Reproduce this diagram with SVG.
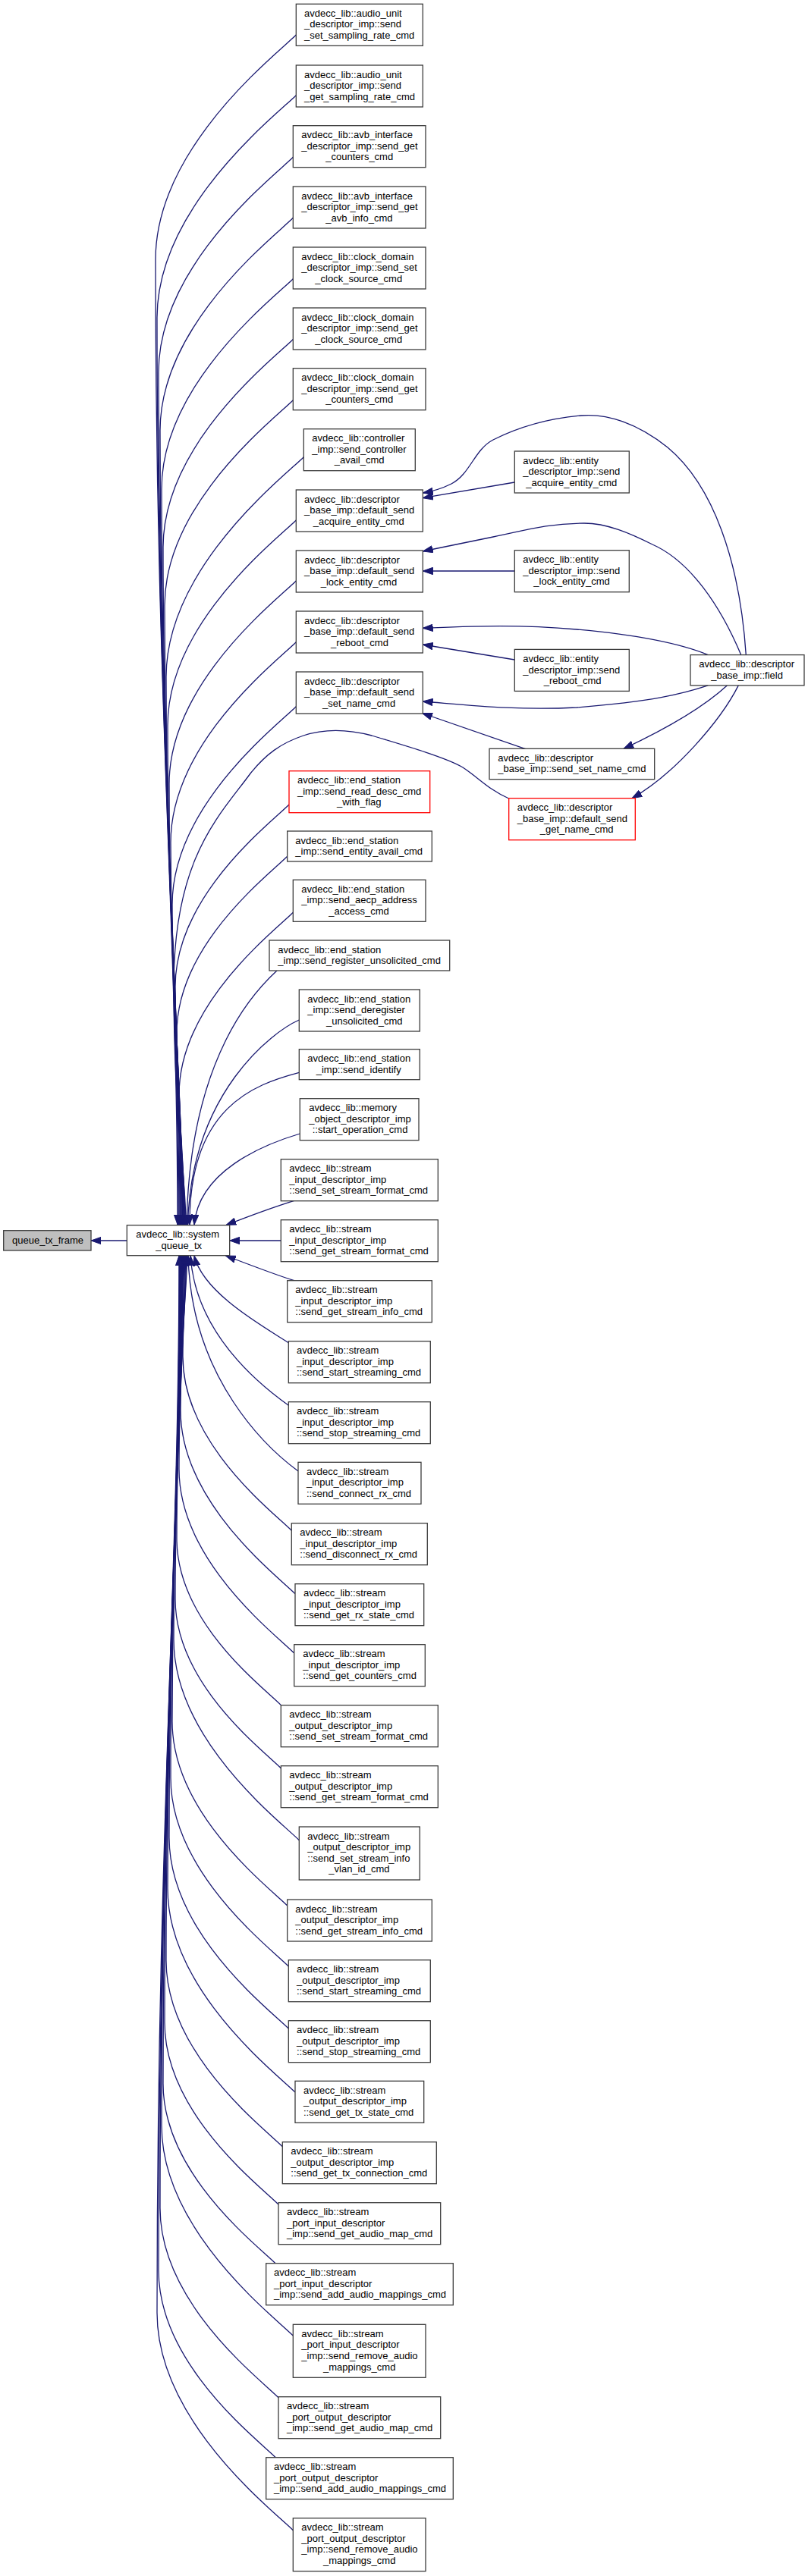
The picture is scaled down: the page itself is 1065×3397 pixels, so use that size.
<svg xmlns="http://www.w3.org/2000/svg" width="1065" height="3397" viewBox="0 0 1065 3397">
<style>
.n rect{fill:#fff;stroke:#3c3c3c;stroke-width:1.3}
.n.red rect{stroke:#ff0000}
.n.root rect{fill:#bfbfbf}
text{font-family:"Liberation Sans",Arial,Helvetica,sans-serif;font-size:13px;fill:#000}
.e path{fill:none;stroke:#191970;stroke-width:1.3;marker-end:url(#ah)}
</style>
<defs>
<marker id="ah" markerUnits="userSpaceOnUse" markerWidth="14" markerHeight="10" viewBox="0 0 14 10" refX="13.3" refY="5" orient="auto"><path d="M0,0.3 L13.3,5 L0,9.7 Z" fill="#191970" stroke="#191970" stroke-width="1"/></marker>
</defs>
<rect width="1065" height="3397" fill="#fff"/>
<g id="connectors" class="e">
<path d="M167.3,1636 L120,1636"/>
<path d="M390.3,46 C365.3,71 205,194.2 205,342.5 C205,915.1 234,1233.2 234,1615"/>
<path d="M390.3,125.7 C365.3,150.7 207,272.3 207,419 C207,957.2 235,1256.2 235,1615"/>
<path d="M386.3,207.3 C361.3,232.3 209,349.1 209,491 C209,996.8 236,1277.8 236,1615"/>
<path d="M386.3,287.3 C361.3,312.3 211,427.6 211,567.8 C211,1039 237,1300.8 237,1615"/>
<path d="M386.3,367.7 C361.3,392.7 213,506.3 213,645 C213,1081.5 238,1324 238,1615"/>
<path d="M386.3,447.5 C361.3,472.5 215,584.6 215,721.6 C215,1123.6 238.5,1347 238.5,1615"/>
<path d="M386.3,527.7 C361.3,552.7 217,663.2 217,798.6 C217,1166 239,1370.1 239,1615"/>
<path d="M400.3,602.7 C375.3,627.7 219,747.8 219,892.8 C219,1217.8 240,1398.3 240,1615"/>
<path d="M390.3,686 C365.3,711 221,821.5 221,956.9 C221,1253 240.5,1417.6 240.5,1615"/>
<path d="M390.3,766 C365.3,791 223,899.9 223,1033.7 C223,1295.3 241,1440.6 241,1615"/>
<path d="M390.3,846.7 C365.3,871.7 225,979 225,1111.2 C225,1337.9 241.5,1463.9 241.5,1615"/>
<path d="M390.3,931.7 C365.3,956.7 227,1062.4 227,1193 C227,1382.9 242,1488.4 242,1615"/>
<path d="M670.7,1053 C645,1042 630,1025 610,1012 C590,1000 540,985 490,970 C460,962 430,960 400,970 C370,980 350,995 330,1020 C290,1075 229,1130 229,1300 C229,1460 243,1530 243,1615"/>
<path d="M381,1061 C356,1086 231,1181 231,1301 C231,1442.3 243.5,1520.8 243.5,1615"/>
<path d="M378.7,1129.3 C353.7,1154.3 233,1245.9 233,1362.4 C233,1476.1 244,1539.2 244,1615"/>
<path d="M386.3,1203.3 C361.3,1228.3 236,1323.6 236,1443.8 C236,1520.8 245,1563.6 245,1615"/>
<path d="M365,1280 C340,1303 250,1390 246,1615"/>
<path d="M394.3,1345 C360,1360 252,1440 247.5,1615"/>
<path d="M394.3,1414.3 C335,1430 249,1460 250,1615"/>
<path d="M395.3,1495 C345,1510 262,1545 256,1615"/>
<path d="M387.7,1583.3 C360,1592 330,1603 298,1615.5"/>
<path d="M370.3,1636 L302.7,1636"/>
<path d="M387.7,1688.7 C360,1680 330,1668 297.5,1656"/>
<path d="M380.3,1770.7 C345,1748 268,1705 256,1656"/>
<path d="M380.3,1853.3 C345,1828 258,1760 251,1656"/>
<path d="M393,1940 C355,1912 252,1820 248,1656"/>
<path d="M384.3,2018.3 C359.3,1993.3 241,1903.6 241,1789 C241,1729.1 246.5,1695.9 246.5,1656"/>
<path d="M389,2101.7 C364,2076.7 238,1980.9 238,1860.1 C238,1768.3 245.5,1717.2 245.5,1656"/>
<path d="M387.7,2180 C362.7,2155 236,2058.6 236,1937.3 C236,1810.7 244.5,1740.4 244.5,1656"/>
<path d="M370,2248.3 C345,2223.3 233,2138.7 233,2029.1 C233,1861.2 243.5,1767.9 243.5,1656"/>
<path d="M370.3,2331.7 C345.3,2306.7 231,2220.3 231,2108.8 C231,1905 242.5,1791.8 242.5,1656"/>
<path d="M394.3,2426.7 C369.3,2401.7 229,2294.5 229,2162.2 C229,1934.4 241.5,1807.9 241.5,1656"/>
<path d="M378.7,2513 C353.7,2488 227,2391.7 227,2270.3 C227,1993.9 241,1840.3 241,1656"/>
<path d="M380.3,2593 C355.3,2568 225,2468.8 225,2344.5 C225,2034.7 240.5,1862.6 240.5,1656"/>
<path d="M380.3,2675 C355.3,2650 223,2549.2 223,2423.3 C223,2078 240,1886.2 240,1656"/>
<path d="M389,2759 C364,2734 221,2624.6 221,2490.2 C221,2114.8 239.5,1906.3 239.5,1656"/>
<path d="M372.3,2830.7 C347.3,2805.7 219,2708.1 219,2585.4 C219,2167.2 239,1934.8 239,1656"/>
<path d="M367,2907 C342,2882 217,2787 217,2667 C217,2212 238.5,1959.3 238.5,1656"/>
<path d="M363.3,2985 C338.3,2960 215,2866.4 215,2747.7 C215,2256.4 238,1983.5 238,1656"/>
<path d="M386.3,3080 C361.3,3055 213,2941.4 213,2802.7 C213,2286.7 237.5,2000 237.5,1656"/>
<path d="M367,3161.7 C342,3136.7 211,3036.9 211,2912.1 C211,2346.9 237,2032.8 237,1656"/>
<path d="M363.3,3240.7 C338.3,3215.7 209,3117.3 209,2993.8 C209,2391.8 236.5,2057.3 236.5,1656"/>
<path d="M386.3,3336.7 C361.3,3311.7 207,3193.3 207,3049.8 C207,2422.6 236,2074.1 236,1656"/>
<path d="M678.3,636 L557.3,656.7"/>
<path d="M983.3,863.6 C975,740 940,640 880,590 C840,558 800,545 766,548 C720,552 680,565 650,580 C625,593 620,625 595,638 C583,644 570,648 557.3,650"/>
<path d="M976.7,863.6 C950,800 910,740 860,718 C830,703 800,690 770,690 C720,690 690,700 650,708 C620,714 590,720 557.3,727"/>
<path d="M678.3,753 L557.3,753"/>
<path d="M933.3,863.6 C900,850 850,838 760,830 C680,823 620,826 557.3,828.3"/>
<path d="M678.3,870 L557.3,850"/>
<path d="M933.3,903.9 C900,915 860,925 760,933 C680,937 620,930 557.3,925"/>
<path d="M693.3,987.9 L556.5,940.5"/>
<path d="M958.3,903.9 C930,930 880,960 822,987.3"/>
<path d="M973.3,903.9 C950,950 890,1020 833,1052.7"/>
</g>
<g id="n_queue_tx_frame" class="n root"><rect x="4.7" y="1622.7" width="115.3" height="26.3"/><text x="16" y="1640">queue_tx_frame</text></g>
<g id="n_system_queue_tx" class="n"><rect x="167.3" y="1615.7" width="135.4" height="40"/><text x="179.3" y="1632.2">avdecc_lib::system</text><text x="205.3" y="1646.8">_queue_tx</text></g>
<g id="n1" class="n"><rect x="390.3" y="5.3" width="167" height="55"/><text x="401" y="21.8">avdecc_lib::audio_unit</text><text x="401" y="36.4">_descriptor_imp::send</text><text x="401" y="51">_set_sampling_rate_cmd</text></g>
<g id="n2" class="n"><rect x="390.3" y="86" width="167" height="55"/><text x="401" y="102.5">avdecc_lib::audio_unit</text><text x="401" y="117.1">_descriptor_imp::send</text><text x="401" y="131.7">_get_sampling_rate_cmd</text></g>
<g id="n3" class="n"><rect x="386.3" y="165.7" width="174.7" height="55"/><text x="397.3" y="182.2">avdecc_lib::avb_interface</text><text x="397.3" y="196.8">_descriptor_imp::send_get</text><text x="429.3" y="211.4">_counters_cmd</text></g>
<g id="n4" class="n"><rect x="386.3" y="246" width="174.7" height="55"/><text x="397.3" y="262.5">avdecc_lib::avb_interface</text><text x="397.3" y="277.1">_descriptor_imp::send_get</text><text x="429.3" y="291.7">_avb_info_cmd</text></g>
<g id="n5" class="n"><rect x="386.3" y="326" width="174.7" height="55"/><text x="397.3" y="342.5">avdecc_lib::clock_domain</text><text x="397.3" y="357.1">_descriptor_imp::send_set</text><text x="415.3" y="371.7">_clock_source_cmd</text></g>
<g id="n6" class="n"><rect x="386.3" y="406" width="174.7" height="55"/><text x="397.3" y="422.5">avdecc_lib::clock_domain</text><text x="397.3" y="437.1">_descriptor_imp::send_get</text><text x="415.3" y="451.7">_clock_source_cmd</text></g>
<g id="n7" class="n"><rect x="386.3" y="485.7" width="174.7" height="55"/><text x="397.3" y="502.2">avdecc_lib::clock_domain</text><text x="397.3" y="516.8">_descriptor_imp::send_get</text><text x="429.3" y="531.4">_counters_cmd</text></g>
<g id="n8" class="n"><rect x="400.3" y="565.7" width="147" height="55"/><text x="411.3" y="582.2">avdecc_lib::controller</text><text x="411.3" y="596.8">_imp::send_controller</text><text x="440.7" y="611.4">_avail_cmd</text></g>
<g id="n9" class="n"><rect x="390.3" y="646" width="167" height="55"/><text x="401" y="662.5">avdecc_lib::descriptor</text><text x="401" y="677.1">_base_imp::default_send</text><text x="412.7" y="691.7">_acquire_entity_cmd</text></g>
<g id="n10" class="n"><rect x="390.3" y="726" width="167" height="55"/><text x="401" y="742.5">avdecc_lib::descriptor</text><text x="401" y="757.1">_base_imp::default_send</text><text x="422.7" y="771.7">_lock_entity_cmd</text></g>
<g id="n11" class="n"><rect x="390.3" y="806" width="167" height="55"/><text x="401" y="822.5">avdecc_lib::descriptor</text><text x="401" y="837.1">_base_imp::default_send</text><text x="436" y="851.7">_reboot_cmd</text></g>
<g id="n12" class="n"><rect x="390.3" y="886" width="167" height="55"/><text x="401" y="902.5">avdecc_lib::descriptor</text><text x="401" y="917.1">_base_imp::default_send</text><text x="425" y="931.7">_set_name_cmd</text></g>
<g id="n13" class="n red"><rect x="381" y="1016.7" width="185.7" height="55"/><text x="392" y="1033.2">avdecc_lib::end_station</text><text x="392" y="1047.8">_imp::send_read_desc_cmd</text><text x="444" y="1062.4">_with_flag</text></g>
<g id="n14" class="n"><rect x="378.7" y="1096" width="190.6" height="40"/><text x="389.3" y="1112.5">avdecc_lib::end_station</text><text x="389.3" y="1127.1">_imp::send_entity_avail_cmd</text></g>
<g id="n15" class="n"><rect x="386.3" y="1160.3" width="174.7" height="55"/><text x="397.3" y="1176.8">avdecc_lib::end_station</text><text x="397.3" y="1191.4">_imp::send_aecp_address</text><text x="433.3" y="1206">_access_cmd</text></g>
<g id="n16" class="n"><rect x="355" y="1240" width="237.7" height="40"/><text x="366.3" y="1256.5">avdecc_lib::end_station</text><text x="366.3" y="1271.1">_imp::send_register_unsolicited_cmd</text></g>
<g id="n17" class="n"><rect x="394.3" y="1305" width="159" height="55"/><text x="405.3" y="1321.5">avdecc_lib::end_station</text><text x="405.3" y="1336.1">_imp::send_deregister</text><text x="430" y="1350.7">_unsolicited_cmd</text></g>
<g id="n18" class="n"><rect x="394.3" y="1383.7" width="159" height="40"/><text x="405.3" y="1400.2">avdecc_lib::end_station</text><text x="416.7" y="1414.8">_imp::send_identify</text></g>
<g id="n19" class="n"><rect x="395.3" y="1448.7" width="156.7" height="55"/><text x="407.3" y="1465.2">avdecc_lib::memory</text><text x="407.3" y="1479.8">_object_descriptor_imp</text><text x="411.7" y="1494.4">::start_operation_cmd</text></g>
<g id="n20" class="n"><rect x="370.3" y="1528.7" width="207" height="55"/><text x="381.3" y="1545.2">avdecc_lib::stream</text><text x="381.3" y="1559.8">_input_descriptor_imp</text><text x="381.3" y="1574.4">::send_set_stream_format_cmd</text></g>
<g id="n21" class="n"><rect x="370.3" y="1608.7" width="207" height="55"/><text x="381.3" y="1625.2">avdecc_lib::stream</text><text x="381.3" y="1639.8">_input_descriptor_imp</text><text x="381.3" y="1654.4">::send_get_stream_format_cmd</text></g>
<g id="n22" class="n"><rect x="378.7" y="1688.7" width="190.6" height="55"/><text x="389.3" y="1705.2">avdecc_lib::stream</text><text x="389.3" y="1719.8">_input_descriptor_imp</text><text x="389.3" y="1734.4">::send_get_stream_info_cmd</text></g>
<g id="n23" class="n"><rect x="380.3" y="1768.7" width="187" height="55"/><text x="391" y="1785.2">avdecc_lib::stream</text><text x="391" y="1799.8">_input_descriptor_imp</text><text x="391" y="1814.4">::send_start_streaming_cmd</text></g>
<g id="n24" class="n"><rect x="380.3" y="1848.7" width="187" height="55"/><text x="391" y="1865.2">avdecc_lib::stream</text><text x="391" y="1879.8">_input_descriptor_imp</text><text x="391" y="1894.4">::send_stop_streaming_cmd</text></g>
<g id="n25" class="n"><rect x="393" y="1928.3" width="162" height="55"/><text x="404" y="1944.8">avdecc_lib::stream</text><text x="404" y="1959.4">_input_descriptor_imp</text><text x="404" y="1974">::send_connect_rx_cmd</text></g>
<g id="n26" class="n"><rect x="384.3" y="2008.7" width="179" height="55"/><text x="395.3" y="2025.2">avdecc_lib::stream</text><text x="395.3" y="2039.8">_input_descriptor_imp</text><text x="395.3" y="2054.4">::send_disconnect_rx_cmd</text></g>
<g id="n27" class="n"><rect x="389" y="2088.7" width="169.7" height="55"/><text x="400" y="2105.2">avdecc_lib::stream</text><text x="400" y="2119.8">_input_descriptor_imp</text><text x="400" y="2134.4">::send_get_rx_state_cmd</text></g>
<g id="n28" class="n"><rect x="387.7" y="2168.7" width="172.6" height="55"/><text x="399.3" y="2185.2">avdecc_lib::stream</text><text x="399.3" y="2199.8">_input_descriptor_imp</text><text x="399.3" y="2214.4">::send_get_counters_cmd</text></g>
<g id="n29" class="n"><rect x="370.3" y="2248.7" width="207" height="55"/><text x="381.3" y="2265.2">avdecc_lib::stream</text><text x="381.3" y="2279.8">_output_descriptor_imp</text><text x="381.3" y="2294.4">::send_set_stream_format_cmd</text></g>
<g id="n30" class="n"><rect x="370.3" y="2328.7" width="207" height="55"/><text x="381.3" y="2345.2">avdecc_lib::stream</text><text x="381.3" y="2359.8">_output_descriptor_imp</text><text x="381.3" y="2374.4">::send_get_stream_format_cmd</text></g>
<g id="n31" class="n"><rect x="394.3" y="2409" width="159" height="70"/><text x="405.3" y="2425.5">avdecc_lib::stream</text><text x="405.3" y="2440.1">_output_descriptor_imp</text><text x="405.3" y="2454.7">::send_set_stream_info</text><text x="433.3" y="2469.3">_vlan_id_cmd</text></g>
<g id="n32" class="n"><rect x="378.7" y="2505" width="190.6" height="55"/><text x="389.3" y="2521.5">avdecc_lib::stream</text><text x="389.3" y="2536.1">_output_descriptor_imp</text><text x="389.3" y="2550.7">::send_get_stream_info_cmd</text></g>
<g id="n33" class="n"><rect x="380.3" y="2584.7" width="187" height="55"/><text x="391" y="2601.2">avdecc_lib::stream</text><text x="391" y="2615.8">_output_descriptor_imp</text><text x="391" y="2630.4">::send_start_streaming_cmd</text></g>
<g id="n34" class="n"><rect x="380.3" y="2664.7" width="187" height="55"/><text x="391" y="2681.2">avdecc_lib::stream</text><text x="391" y="2695.8">_output_descriptor_imp</text><text x="391" y="2710.4">::send_stop_streaming_cmd</text></g>
<g id="n35" class="n"><rect x="389" y="2744.3" width="169.7" height="55"/><text x="400" y="2760.8">avdecc_lib::stream</text><text x="400" y="2775.4">_output_descriptor_imp</text><text x="400" y="2790">::send_get_tx_state_cmd</text></g>
<g id="n36" class="n"><rect x="372.3" y="2824.7" width="203" height="55"/><text x="383.3" y="2841.2">avdecc_lib::stream</text><text x="383.3" y="2855.8">_output_descriptor_imp</text><text x="383.3" y="2870.4">::send_get_tx_connection_cmd</text></g>
<g id="n37" class="n"><rect x="367" y="2904.7" width="213.7" height="55"/><text x="378" y="2921.2">avdecc_lib::stream</text><text x="378" y="2935.8">_port_input_descriptor</text><text x="378" y="2950.4">_imp::send_get_audio_map_cmd</text></g>
<g id="n38" class="n"><rect x="350.7" y="2984.7" width="246.6" height="55"/><text x="361" y="3001.2">avdecc_lib::stream</text><text x="361" y="3015.8">_port_input_descriptor</text><text x="361" y="3030.4">_imp::send_add_audio_mappings_cmd</text></g>
<g id="n39" class="n"><rect x="386.3" y="3065.3" width="174.7" height="70"/><text x="397.3" y="3081.8">avdecc_lib::stream</text><text x="397.3" y="3096.4">_port_input_descriptor</text><text x="397.3" y="3111">_imp::send_remove_audio</text><text x="426" y="3125.6">_mappings_cmd</text></g>
<g id="n40" class="n"><rect x="367" y="3160.7" width="213.7" height="55"/><text x="378" y="3177.2">avdecc_lib::stream</text><text x="378" y="3191.8">_port_output_descriptor</text><text x="378" y="3206.4">_imp::send_get_audio_map_cmd</text></g>
<g id="n41" class="n"><rect x="350.7" y="3240.7" width="246.6" height="55"/><text x="361" y="3257.2">avdecc_lib::stream</text><text x="361" y="3271.8">_port_output_descriptor</text><text x="361" y="3286.4">_imp::send_add_audio_mappings_cmd</text></g>
<g id="n42" class="n"><rect x="386.3" y="3320.7" width="174.7" height="70"/><text x="397.3" y="3337.2">avdecc_lib::stream</text><text x="397.3" y="3351.8">_port_output_descriptor</text><text x="397.3" y="3366.4">_imp::send_remove_audio</text><text x="426" y="3381">_mappings_cmd</text></g>
<g id="n_entity_acquire" class="n"><rect x="678.3" y="595" width="151" height="55"/><text x="689.3" y="611.5">avdecc_lib::entity</text><text x="689.3" y="626.1">_descriptor_imp::send</text><text x="693.3" y="640.7">_acquire_entity_cmd</text></g>
<g id="n_entity_lock" class="n"><rect x="678.3" y="725.7" width="151" height="55"/><text x="689.3" y="742.2">avdecc_lib::entity</text><text x="689.3" y="756.8">_descriptor_imp::send</text><text x="703.3" y="771.4">_lock_entity_cmd</text></g>
<g id="n_entity_reboot" class="n"><rect x="678.3" y="856.4" width="151" height="55"/><text x="689.3" y="872.9">avdecc_lib::entity</text><text x="689.3" y="887.5">_descriptor_imp::send</text><text x="716.7" y="902.1">_reboot_cmd</text></g>
<g id="n_field" class="n"><rect x="910" y="863.6" width="150" height="40.3"/><text x="921.3" y="880.1">avdecc_lib::descriptor</text><text x="937.3" y="894.7">_base_imp::field</text></g>
<g id="n_send_set_name" class="n"><rect x="645" y="987.3" width="217.7" height="40.4"/><text x="656.3" y="1003.8">avdecc_lib::descriptor</text><text x="656.3" y="1018.4">_base_imp::send_set_name_cmd</text></g>
<g id="n_default_send_get_name" class="n red"><rect x="670.7" y="1052.7" width="166.6" height="55"/><text x="681.7" y="1069.2">avdecc_lib::descriptor</text><text x="681.7" y="1083.8">_base_imp::default_send</text><text x="711.7" y="1098.4">_get_name_cmd</text></g>
</svg>
